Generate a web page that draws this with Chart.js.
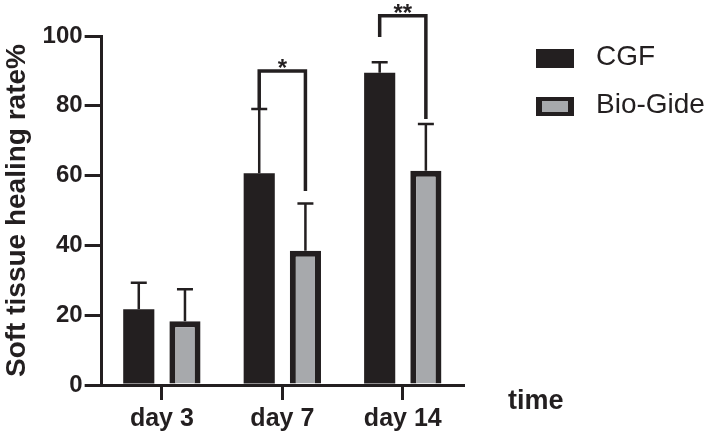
<!DOCTYPE html>
<html>
<head>
<meta charset="utf-8">
<script src="https://cdn.jsdelivr.net/npm/chart.js@4/dist/chart.umd.min.js"></script>
<style>
  body { margin: 0; background: #fff; }
  #wrap { width: 709px; height: 438px; position: relative; }
</style>
</head>
<body>
<div id="wrap"><canvas id="chart"></canvas></div>
<script>
const days = ['day 3', 'day 7', 'day 14'];
const cgfMean = [21.7, 60.7, 89.5];
const cgfErr = [7.6, 18.4, 3.0];
const bioMean = [18.3, 38.5, 61.4];
const bioErr = [9.1, 13.5, 13.4];
const yTicks = [0, 20, 40, 60, 80, 100];
// significance brackets: stars, bracket height, where each leg stops
const sigText = ['', '*', '**'];
const sigLevel = [null, 90, 105.8];
const sigLeftEnd = [null, 79.1, 99.7];
const sigRightEnd = [null, 55.6, 76.2];

const ink = '#231f20';
const grey = '#a7a9ac';
const FONT = '"Liberation Sans", Arial, Helvetica, sans-serif';

// error bars, brackets, legend and the "time" label
const extras = {
  id: 'extras',
  afterDatasetsDraw(chart) {
    const {ctx, chartArea, scales: {y}} = chart;
    const errs = [cgfErr, bioErr];
    ctx.save();
    ctx.strokeStyle = ink;
    ctx.fillStyle = ink;

    chart.data.datasets.forEach((ds, d) => {
      chart.getDatasetMeta(d).data.forEach((bar, i) => {
        const top = y.getPixelForValue(ds.data[i] + errs[d][i]);
        ctx.lineWidth = 2.5;
        ctx.beginPath();
        ctx.moveTo(bar.x, bar.y);
        ctx.lineTo(bar.x, top);
        ctx.moveTo(bar.x - 8, top);
        ctx.lineTo(bar.x + 8, top);
        ctx.stroke();
      });
    });

    const m0 = chart.getDatasetMeta(0).data;
    const m1 = chart.getDatasetMeta(1).data;
    ctx.lineWidth = 3.5;
    ctx.font = 'bold 24px ' + FONT;
    ctx.textAlign = 'center';
    ctx.textBaseline = 'alphabetic';
    days.forEach((_, i) => {
      if (sigLevel[i] === null) return;
      const yl = y.getPixelForValue(sigLevel[i]);
      const x0 = m0[i].x, x1 = m1[i].x;
      ctx.beginPath();
      ctx.moveTo(x0, y.getPixelForValue(sigLeftEnd[i]));
      ctx.lineTo(x0, yl);
      ctx.lineTo(x1, yl);
      ctx.lineTo(x1, y.getPixelForValue(sigRightEnd[i]));
      ctx.stroke();
      ctx.fillText(sigText[i], (x0 + x1) / 2, yl + 5);
    });

    // legend
    const lx = chartArea.right + 73;
    ctx.textAlign = 'left';
    ctx.textBaseline = 'middle';
    ctx.font = '28px ' + FONT;
    chart.data.datasets.forEach((ds, d) => {
      const ty = chartArea.top + 13 + d * 48;
      ctx.fillStyle = ds.borderColor;
      ctx.fillRect(lx, ty, 38, 19);
      ctx.fillStyle = ds.backgroundColor;
      ctx.fillRect(lx + 6, ty + 4, 26, 11);
      ctx.fillStyle = ink;
      ctx.fillText(ds.label, lx + 60, ty + 8);
    });

    ctx.textBaseline = 'alphabetic';
    ctx.font = 'bold 27px ' + FONT;
    ctx.fillText('time', chartArea.right + 45, chartArea.bottom + 24);
    ctx.restore();
  }
};

new Chart(document.getElementById('chart'), {
  type: 'bar',
  data: {
    labels: days,
    datasets: [
      { label: 'CGF', data: cgfMean, backgroundColor: ink, borderColor: ink, borderWidth: 0,
        categoryPercentage: 0.767, barPercentage: 0.674 },
      { label: 'Bio-Gide', data: bioMean, backgroundColor: grey, borderColor: ink, borderWidth: 6,
        categoryPercentage: 0.767, barPercentage: 0.674 }
    ]
  },
  options: {
    responsive: true,
    maintainAspectRatio: false,
    animation: false,
    layout: { padding: { left: 0, top: 36, right: 246, bottom: 0 } },
    plugins: {
      legend: { display: false },
      tooltip: { enabled: false }
    },
    scales: {
      x: {
        grid: { offset: false, drawOnChartArea: false, tickLength: 15, lineWidth: 3, color: ink },
        border: { color: ink, width: 3 },
        ticks: { color: ink, padding: 4, font: { family: FONT, size: 25, weight: 'bold' } }
      },
      y: {
        min: 0,
        max: 100,
        afterBuildTicks: s => { s.ticks = yTicks.map(v => ({ value: v })); },
        grid: { drawOnChartArea: false, tickLength: 17, lineWidth: 3, color: ink },
        border: { color: ink, width: 3 },
        ticks: { color: ink, padding: 2, font: { family: FONT, size: 24, weight: 'bold' } },
        title: {
          display: true,
          text: 'Soft tissue healing rate%',
          color: ink,
          font: { family: FONT, size: 28, weight: 'bold' },
          padding: { top: 0, bottom: 7 }
        }
      }
    }
  },
  plugins: [extras]
});
</script>
</body>
</html>
